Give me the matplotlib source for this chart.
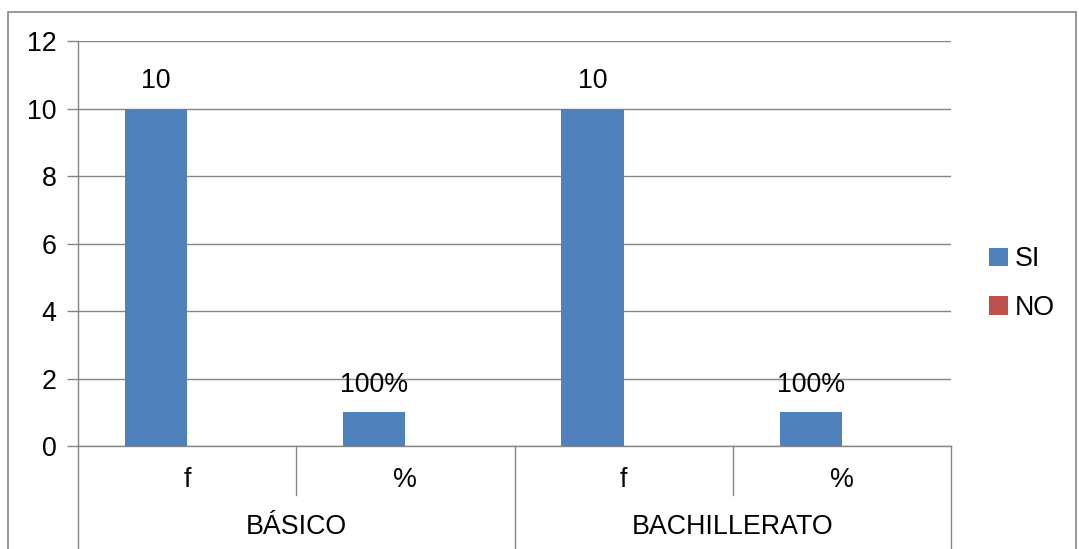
import numpy as np
import matplotlib.pyplot as plt
from matplotlib.patches import Rectangle
import matplotlib.transforms as mtransforms

plt.rcParams['font.family'] = ['Liberation Sans', 'DejaVu Sans']

# data
groups = ['BÁSICO', 'BACHILLERATO']
subcats = ['f', '%', 'f', '%']
si = [10, 1, 10, 1]
no = [0, 0, 0, 0]
si_labels = ['10', '100%', '10', '100%']

c_si = '#4F81BD'
c_no = '#C0504D'
gray = '#868686'
fs = 19.3

fig = plt.figure(figsize=(10.79, 5.49), dpi=100)
ax = fig.add_axes([0.0723, 0.1876, 0.8091, 0.7377])

x = np.arange(len(subcats))
w = 0.285
ax.bar(x - w / 2, si, w, color=c_si, label='SI', zorder=3, linewidth=0)
ax.bar(x + w / 2, no, w, color=c_no, label='NO', zorder=3, linewidth=0)

for xi, v, lab in zip(x, si, si_labels):
    ax.text(xi - w / 2, v + 0.42, lab, ha='center', va='bottom', fontsize=fs)

ax.set_xlim(-0.5, len(subcats) - 0.5)
ax.set_ylim(0, 12)
ax.set_yticks(range(0, 13, 2))
ax.yaxis.grid(True, color=gray, linewidth=1, zorder=0)
ax.tick_params(axis='y', length=8, width=1, color=gray, pad=7.5, labelsize=fs)
ax.set_xticks([])

for s in ['top', 'right']:
    ax.spines[s].set_visible(False)
for s in ['left', 'bottom']:
    ax.spines[s].set_color(gray)
    ax.spines[s].set_linewidth(1)

# multi-level category axis
trans = mtransforms.blended_transform_factory(ax.transData, ax.transAxes)
for xi, lab in zip(x, subcats):
    ax.text(xi, -0.084, lab, transform=trans, ha='center', va='center', fontsize=fs)
for i, g in enumerate(groups):
    ax.text(2 * i + 0.5, -0.2, g, transform=trans, ha='center', va='center', fontsize=fs)

# short separators between sub-categories, long ones between groups
for xs in [0.5, 2.5]:
    ax.plot([xs, xs], [0, -0.121], transform=trans, color=gray, lw=1, clip_on=False)
for xs in [-0.5, 1.5, 3.5]:
    ax.plot([xs, xs], [0, -0.30], transform=trans, color=gray, lw=1, clip_on=False)

ax.legend(loc='center left', bbox_to_anchor=(0.9065, 0.483), bbox_transform=fig.transFigure,
          frameon=False, fontsize=fs, handlelength=0.7, handleheight=0.7,
          handletextpad=0.25, labelspacing=0.85, borderaxespad=0)

# outer chart frame
fig.patches.append(Rectangle((8 / 1079, -0.1), 1068 / 1079, 1.1 - 12 / 549,
                             transform=fig.transFigure, fill=False,
                             edgecolor=gray, linewidth=1.2))

plt.savefig('out.png', dpi=100)
